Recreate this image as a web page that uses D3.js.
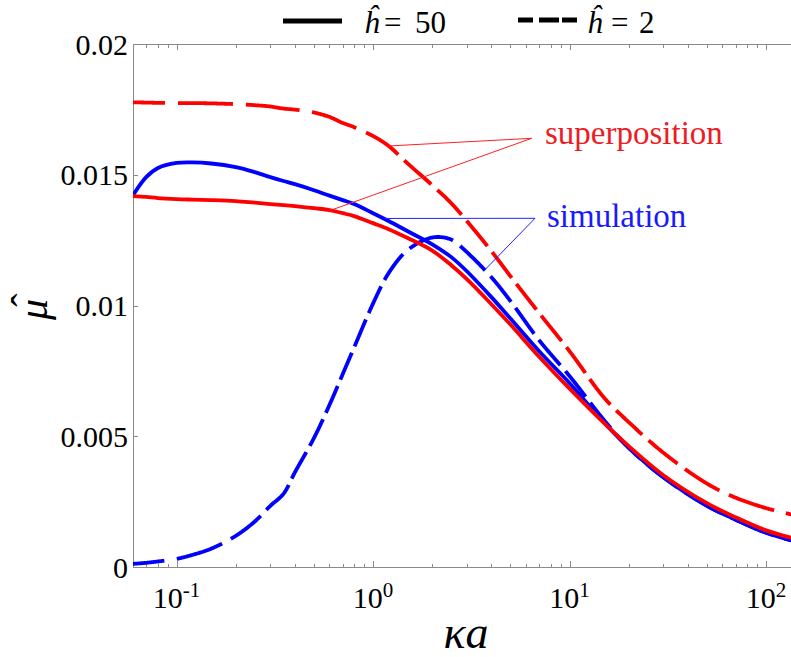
<!DOCTYPE html>
<html>
<head>
<meta charset="utf-8">
<script src="https://cdn.jsdelivr.net/npm/d3@7"></script>
<style>
  body { margin: 0; background: #fff; }
  svg { display: block; }
</style>
</head>
<body>
<svg id="chart" width="791" height="657" font-family="'Liberation Serif', 'Times New Roman', serif"></svg>
<script>
// κa sample points shared by all four curves
const kappaA = [0.06, 0.07, 0.08, 0.1, 0.12, 0.15, 0.2, 0.25, 0.3, 0.35, 0.4, 0.5, 0.6, 0.7, 0.8,
                1, 1.2, 1.5, 2, 2.5, 3, 4, 5, 7, 10, 15, 20, 30, 50, 70, 100, 140];

// superposition, ĥ = 50 (red, solid)
const superposH50 = [0.01418, 0.01415, 0.01411, 0.01407, 0.01405, 0.01403, 0.01399, 0.01393, 0.01388, 0.01384, 0.01380,
                     0.01372, 0.01365, 0.01353, 0.01342, 0.01315, 0.01292, 0.01258, 0.01210, 0.01154, 0.01101, 0.01005,
                     0.00927, 0.00804, 0.00682, 0.00550, 0.00462, 0.00351, 0.00244, 0.00190, 0.00140, 0.00108];

// superposition, ĥ = 2 (red, dashed)
const superposH2 = [0.01777, 0.01776, 0.01775, 0.01774, 0.01774, 0.01773, 0.01770, 0.01766, 0.01761, 0.01753, 0.01749,
                    0.01738, 0.01721, 0.01698, 0.01682, 0.01648, 0.01610, 0.01543, 0.01460, 0.01391, 0.01323, 0.01208,
                    0.01112, 0.00971, 0.00825, 0.00647, 0.00554, 0.00437, 0.00319, 0.00265, 0.00225, 0.00198];

// simulation, ĥ = 50 (blue, solid)
const simulH50 = [0.01422, 0.01491, 0.01525, 0.01545, 0.01547, 0.01543, 0.01529, 0.01510, 0.01491, 0.01476, 0.01464,
                  0.01441, 0.01420, 0.01403, 0.01388, 0.01353, 0.01323, 0.01284, 0.01234, 0.01185, 0.01131, 0.01032,
                  0.00950, 0.00825, 0.00703, 0.00552, 0.00456, 0.00343, 0.00234, 0.00181, 0.00131, 0.00098];

// simulation, ĥ = 2 (blue, dashed)
const simulH2 = [0.00012, 0.00016, 0.00021, 0.00031, 0.00046, 0.00070, 0.00119, 0.00174, 0.00234, 0.00280, 0.00362,
                 0.00493, 0.00620, 0.00737, 0.00839, 0.01008, 0.01124, 0.01212, 0.01260, 0.01252, 0.01204, 0.01108,
                 0.01017, 0.00867, 0.00730, 0.00561, 0.00456, 0.00343, 0.00234, 0.00181, 0.00131, 0.00098];

const yTicks = [0, 0.005, 0.01, 0.015, 0.02];
const yTickLabels = ["0", "0.005", "0.01", "0.015", "0.02"];
const xMajorTicks = [0.1, 1, 10, 100];
const xTickExponents = ["-1", "0", "1", "2"];

const legendItems = [
  { label: "50", dashed: false },
  { label: "2", dashed: true }
];

// ---------------------------------------------------------------
const SERIF = "'Liberation Serif', 'Times New Roman', serif";
const svg = d3.select("#chart");
const axisColor = "#8a8a8a";

const x = d3.scaleLog().domain([0.06, 140]).range([133, 794.8]);
const y = d3.scaleLinear().domain([0, 0.02]).range([567, 44]);

const xMinorTicks = x.ticks().filter(v => !xMajorTicks.some(m => Math.abs(m - v) < 1e-9) && v > 0.0605);

// axes: ticks point into the plot, mirrored on the top edge
function tidy(g) {
  g.selectAll("path, line").attr("stroke", axisColor).attr("stroke-width", 1);
  g.selectAll("text").remove();
  g.attr("shape-rendering", "crispEdges");
}
svg.append("g").attr("transform", `translate(0,${y(0)})`)
  .call(d3.axisBottom(x).tickValues(xMajorTicks).tickSizeInner(-6).tickSizeOuter(0)).call(tidy);
svg.append("g").attr("transform", `translate(0,${y(0)})`)
  .call(d3.axisBottom(x).tickValues(xMinorTicks).tickSizeInner(-3.5).tickSizeOuter(0)).call(tidy)
  .select(".domain").remove();
svg.append("g").attr("transform", `translate(0,${y(0.02)})`)
  .call(d3.axisTop(x).tickValues(xMajorTicks).tickSizeInner(-6).tickSizeOuter(0)).call(tidy);
svg.append("g").attr("transform", `translate(0,${y(0.02)})`)
  .call(d3.axisTop(x).tickValues(xMinorTicks).tickSizeInner(-3.5).tickSizeOuter(0)).call(tidy)
  .select(".domain").remove();
svg.append("g").attr("transform", `translate(${x(0.06)},0)`)
  .call(d3.axisLeft(y).tickValues(yTicks).tickSizeInner(-5).tickSizeOuter(0)).call(tidy);

// tick labels
svg.append("g").selectAll("text").data(yTicks).join("text")
  .attr("font-family", SERIF)
  .attr("x", 128).attr("y", d => y(d)).attr("dy", "0.35em")
  .attr("text-anchor", "end").attr("font-size", 30).attr("fill", "#000")
  .text((d, i) => yTickLabels[i]);

const xl = svg.append("g").selectAll("text").data(xMajorTicks).join("text")
  .attr("font-family", SERIF)
  .attr("x", d => x(d)).attr("y", 608)
  .attr("text-anchor", "middle").attr("font-size", 30).attr("fill", "#000");
xl.append("tspan").text("10");
xl.append("tspan").attr("font-size", 21).attr("dy", -11).text((d, i) => xTickExponents[i]);

// axis titles
svg.append("text").attr("font-family", SERIF).attr("x", 466).attr("y", 648).attr("text-anchor", "middle")
  .attr("font-size", 46).attr("font-style", "italic").text("κa");
const yTitle = svg.append("g").attr("transform", "translate(47,320) rotate(-90)");
yTitle.append("text").attr("font-family", SERIF).attr("x", 0).attr("y", 0)
  .attr("font-size", 42).attr("font-style", "italic").text("μ");
yTitle.append("text").attr("font-family", SERIF).attr("x", 20).attr("y", -8)
  .attr("text-anchor", "middle").attr("font-size", 40).text("ˆ");

// ---------------------------------------------------------------
// curves
svg.append("clipPath").attr("id", "plotClip").append("rect")
  .attr("x", x(0.06)).attr("y", y(0.02) - 4).attr("width", 800 - x(0.06)).attr("height", y(0) - y(0.02) + 8);
const plot = svg.append("g").attr("clip-path", "url(#plotClip)");

const lineGen = d3.line().x(d => x(d[0])).y(d => y(d[1])).curve(d3.curveCatmullRom.alpha(0.5));
const pairs = vals => kappaA.map((k, i) => [k, vals[i]]);

// value of a series at κa, interpolated on log κa
function valueAt(vals, k) {
  const lk = Math.log10(k);
  for (let i = 1; i < kappaA.length; i++) {
    if (k <= kappaA[i]) {
      const a = Math.log10(kappaA[i - 1]), b = Math.log10(kappaA[i]);
      const t = (lk - a) / (b - a);
      return vals[i - 1] + (vals[i] - vals[i - 1]) * t;
    }
  }
  return vals[vals.length - 1];
}

// dashes measured along the curve with vertical runs weighted more heavily
function dashedD(vals, pattern, offset, yWeight) {
  const tmp = svg.append("path").attr("d", lineGen(pairs(vals))).attr("fill", "none");
  const node = tmp.node();
  const L = node.getTotalLength();
  const pts = [];
  for (let s = 0; s <= L; s += 0.75) { const p = node.getPointAtLength(s); pts.push([p.x, p.y]); }
  const pe = node.getPointAtLength(L); pts.push([pe.x, pe.y]);
  tmp.remove();

  let idx = 0, phase = offset;
  while (phase >= pattern[idx]) { phase -= pattern[idx]; idx = (idx + 1) % pattern.length; }
  let left = pattern[idx] - phase;
  let on = idx % 2 === 0;
  let d = on ? `M${pts[0][0]},${pts[0][1]}` : "";
  for (let i = 1; i < pts.length; i++) {
    const [x0, y0] = pts[i - 1], [x1, y1] = pts[i];
    const seg = Math.hypot(x1 - x0, yWeight * (y1 - y0));
    if (seg === 0) continue;
    let t0 = 0;
    while (seg * (1 - t0) > left) {
      const t = t0 + left / seg;
      const xm = x0 + (x1 - x0) * t, ym = y0 + (y1 - y0) * t;
      d += on ? `L${xm},${ym}` : `M${xm},${ym}`;
      on = !on; idx = (idx + 1) % pattern.length; left = pattern[idx]; t0 = t;
    }
    left -= seg * (1 - t0);
    if (on) d += `L${x1},${y1}`;
  }
  return d;
}

const dashPattern = [55, 13];

// callout leaders (under the curves)
const callouts = [
  { text: "superposition", color: "#ed1c24", lineColor: "#ff2020", tx: 545, ty: 144, vx: 531.7, vy: 138.3,
    targets: [[superposH2, 1.2], [superposH50, 0.608]] },
  { text: "simulation", color: "#1a1aff", lineColor: "#2020ff", tx: 547, ty: 226.5, vx: 535, vy: 218.3,
    targets: [[simulH50, 1.13], [simulH2, 3.69]] }
];
callouts.forEach(c => {
  c.targets.forEach(([vals, k]) => {
    svg.append("line").attr("x1", c.vx).attr("y1", c.vy)
      .attr("x2", x(k)).attr("y2", y(valueAt(vals, k)))
      .attr("stroke", c.lineColor).attr("stroke-width", 1);
  });
  svg.append("text").attr("font-family", SERIF).attr("x", c.tx).attr("y", c.ty).attr("font-size", 33)
    .attr("fill", c.color).text(c.text);
});

plot.append("path").attr("d", dashedD(simulH2, dashPattern, 23, 2))
  .attr("fill", "none").attr("stroke", "#0000ff").attr("stroke-width", 3.8);
plot.append("path").attr("d", lineGen(pairs(simulH50)))
  .attr("fill", "none").attr("stroke", "#0000ff").attr("stroke-width", 3.8);
plot.append("path").attr("d", lineGen(pairs(superposH50)))
  .attr("fill", "none").attr("stroke", "#ff0000").attr("stroke-width", 3.8);
plot.append("path").attr("d", dashedD(superposH2, dashPattern, 23, 2))
  .attr("fill", "none").attr("stroke", "#ff0000").attr("stroke-width", 3.8);

// ---------------------------------------------------------------
// legend
const legendPos = [
  { lx1: 283, lx2: 342, ly: 21, hx: 364, ex: 384, vx: 415 },
  { lx1: 518, lx2: 577, ly: 20, hx: 587, ex: 611, vx: 639 }
];
legendItems.forEach((item, i) => {
  const p = legendPos[i];
  svg.append("line").attr("x1", p.lx1).attr("x2", p.lx2).attr("y1", p.ly).attr("y2", p.ly)
    .attr("stroke", "#000").attr("stroke-width", 5)
    .attr("stroke-dasharray", item.dashed ? "15,6,20,3,16" : null);
  const t = svg.append("text").attr("font-family", SERIF).attr("y", 33).attr("font-size", 31).attr("fill", "#000");
  t.append("tspan").attr("x", p.hx).attr("font-style", "italic").text("ĥ");
  t.append("tspan").attr("x", p.ex).text("=");
  t.append("tspan").attr("x", p.vx).text(item.label);
});
</script>
</body>
</html>
